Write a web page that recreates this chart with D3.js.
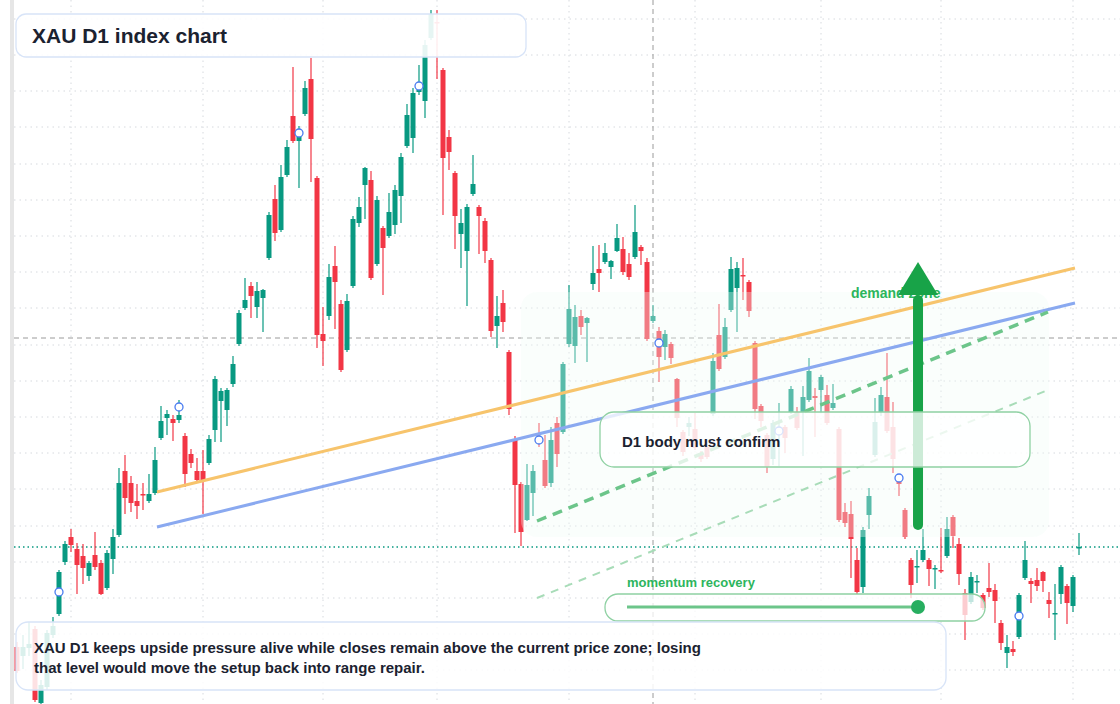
<!DOCTYPE html>
<html><head><meta charset="utf-8">
<script src="https://cdn.jsdelivr.net/npm/d3@7"></script>
<style>html,body{margin:0;padding:0;background:#fff}svg{display:block}</style>
</head><body><svg id="c" width="1120" height="704"></svg>
<script>
// [open, high, low, close]
const candles = [
[353,358,327,329],[344,365,331,353],[352,378,344,356],[371,374,298,300],[297,320,296,315],[313,370,310,367],[365,383,362,374],[386,430,384,428],[438,459,435,456],[463,471,448,455],
[451,457,406,435],[444,456,416,432],[424,439,419,437],[445,468,430,433],[437,440,405,406],[412,450,410,447],[441,471,426,463],[465,532,463,517],[529,545,486,502],[517,524,488,497],
[499,516,481,494],[506,517,490,505],[499,526,497,506],[507,553,505,540],[562,594,560,579],[582,590,565,586],[581,585,559,577],[580,600,577,585],[564,567,513,526],[546,551,532,537],
[529,542,518,520],[529,550,486,520],[537,565,535,561],[570,624,558,621],[599,612,558,609],[590,612,574,610],[616,644,613,636],[656,690,654,687],[692,722,690,700],[714,718,682,704],
[693,718,682,709],[702,711,668,710],[742,788,740,785],[801,815,759,767],[770,835,768,823],[825,860,823,853],[884,933,857,859],[859,874,812,870],[886,919,884,912],[921,942,818,861],
[822,824,652,665],[666,693,634,659],[684,736,680,723],[734,754,671,718],[696,700,628,630],[650,706,648,699],[714,784,712,781],[777,803,773,793],[815,833,781,832],[820,829,720,722],
[736,804,734,800],[772,774,705,752],[764,807,762,788],[775,815,766,810],[804,847,777,843],[854,896,852,885],[862,912,847,907],[908,935,905,914],[899,960,882,955],[962,990,960,986],
[978,990,921,977],[930,932,785,842],[863,870,830,848],[827,829,751,784],[766,791,732,777],[749,796,694,793],[806,845,804,816],[793,795,746,784],[779,782,737,749],[740,742,663,669],
[674,704,652,684],[697,710,668,678],[648,650,585,591],[561,564,467,515],[516,518,454,468],[480,536,479,515],[507,535,484,529],[562,577,553,558],[540,565,512,514],[517,573,513,560],
[577,583,533,546],[568,638,566,636],[656,715,653,691],[654,695,637,683],[684,690,665,673],[677,683,638,682],[716,754,710,727],[731,755,708,727],[738,757,736,747],[733,740,721,739],
[749,776,748,762],[751,763,725,728],[736,747,720,723],[743,795,741,768],[753,755,735,749],[738,742,659,661],[679,695,677,684],[669,673,618,643],[653,670,640,666],[656,658,636,642],
[621,622,573,582],[568,570,544,548],[573,583,564,577],[571,587,550,552],[547,549,538,541],[553,560,541,543],[586,647,584,639],[665,696,629,631],[643,682,641,673],[690,743,688,731],
[712,738,668,732],[725,742,700,724],[718,720,683,689],[657,659,581,591],[594,596,573,579],[565,567,527,533],[541,580,535,577],[569,597,534,572],[573,575,547,562],[588,614,586,611],
[588,593,570,572],[588,614,544,603],[600,642,598,629],[604,612,563,602],[610,625,587,623],[605,615,575,577],[592,616,590,597],[571,573,478,480],[488,497,473,477],[486,499,422,461],
[440,452,406,408],[413,473,407,470],[485,512,471,504],[545,602,543,578],[588,613,584,605],[603,647,567,569],[573,598,527,541],[520,525,504,516],[490,492,461,463],[440,442,402,415],
[433,450,417,434],[440,471,438,450],[440,442,414,431],[431,435,411,432],[430,472,427,429],[444,483,442,471],[483,485,452,464],[456,462,415,426],[407,411,360,385],[398,428,396,423],
[418,425,407,419],[405,407,390,392],[412,437,403,408],[410,416,377,399],[377,380,350,357],[347,365,332,353],[351,359,344,348],[363,407,361,405],[422,459,420,440],[419,422,397,416],
[420,432,409,414],[428,429,408,419],[400,408,382,396],[386,416,360,387],[406,435,396,433],[414,416,376,397],[394,425,388,423],[452,467,445,453]
];
const gridPrices = [981,945,909,873,836,800,764,728,692,655,619,583,547,511,474,438,402,366,330];
const gridIdx = [9,31,51,70,92,113,134,154,176];
const markers = [[7,408],[27,593],[47,867],[67,914],[87,560],[107,657],[127,569],[147,522],[167,384]];
const orangeLine = [[23.33,508],[176.33,732]];
const blueLine = [[23.33,473],[176.33,697]];
const greenDash = [[86.67,479],[171.83,688]];
const lightDash = [[86.67,402],[171.83,610]];
const levelGray = 662, levelTeal = 453, crossIdx = 106;
const zone = {i0:84, i1:172, p0:708, p1:463};
const arrow = {i:150.17, from:475, to:700, tip:738};
const sliderIdx = [101.67, 150.17];
const title = "XAU D1 index chart";
const noteLines = ["XAU D1 keeps upside pressure alive while closes remain above the current price zone; losing","that level would move the setup back into range repair."];

const svg = d3.select("#c");
const x = d3.scaleLinear().domain([0,177]).range([17,1079]);
const y = d3.scaleLinear().domain([296,1000]).range([704,0]);
const F = "'Liberation Sans', Arial, sans-serif";
const UP="#089981", DN="#f23645";

svg.append("rect").attr("x",10).attr("y",0).attr("width",4).attr("height",704).attr("fill","#e6e6e6");
const g = svg.append("g");
gridPrices.forEach(p=>g.append("line").attr("x1",14).attr("x2",1120).attr("y1",y(p)).attr("y2",y(p)).attr("stroke","#d6d9de").attr("stroke-dasharray","1.5,4"));
gridIdx.forEach(i=>g.append("line").attr("x1",x(i)).attr("x2",x(i)).attr("y1",0).attr("y2",704).attr("stroke","#d6d9de").attr("stroke-dasharray","1.5,4"));

svg.append("line").attr("x1",14).attr("x2",1120).attr("y1",y(levelGray)).attr("y2",y(levelGray)).attr("stroke","#9a9a9a").attr("stroke-dasharray","5,4");
svg.append("line").attr("x1",14).attr("x2",1120).attr("y1",y(levelTeal)).attr("y2",y(levelTeal)).attr("stroke","#089981").attr("stroke-dasharray","1.5,3").attr("stroke-width",1.3);
svg.append("line").attr("x1",x(crossIdx)).attr("x2",x(crossIdx)).attr("y1",0).attr("y2",704).attr("stroke","#9a9a9a").attr("stroke-dasharray","5,4");

const cg = svg.append("g");
candles.forEach((d,i)=>{
  const [o,h,l,c]=d; const col = c>=o?UP:DN;
  cg.append("line").attr("x1",x(i)).attr("x2",x(i)).attr("y1",y(h)).attr("y2",y(l)).attr("stroke",col).attr("stroke-width",1.2);
  const top=y(Math.max(o,c)), bh=Math.max(1.5,Math.abs(y(o)-y(c)));
  cg.append("rect").attr("x",x(i)-2.5).attr("y",top).attr("width",5).attr("height",bh).attr("fill",col);
});

svg.append("rect").attr("x",x(zone.i0)).attr("y",y(zone.p0)).attr("width",x(zone.i1)-x(zone.i0)).attr("height",y(zone.p1)-y(zone.p0)).attr("rx",16).attr("fill","#f2fbf5").attr("opacity",0.35);

const ln = d3.line().x(d=>x(d[0])).y(d=>y(d[1]));
svg.append("path").attr("d",ln(orangeLine)).attr("stroke","#f7c46c").attr("stroke-width",3).attr("fill","none");
svg.append("path").attr("d",ln(blueLine)).attr("stroke","#8aa9f0").attr("stroke-width",3).attr("fill","none");
svg.append("path").attr("d",ln(greenDash)).attr("stroke","#6cc58a").attr("stroke-width",3.5).attr("stroke-dasharray","10,7").attr("fill","none");
svg.append("path").attr("d",ln(lightDash)).attr("stroke","#a8dcb8").attr("stroke-width",2).attr("stroke-dasharray","8,7").attr("fill","none");

svg.append("text").attr("x",851).attr("y",298).attr("font-family",F).attr("font-weight","bold").attr("font-size",14).attr("fill","#2db55d").text("demand zone");
const ax=x(arrow.i);
svg.append("line").attr("x1",ax).attr("x2",ax).attr("y1",y(arrow.from)).attr("y2",y(arrow.to)).attr("stroke","#18a348").attr("stroke-width",10).attr("stroke-linecap","round");
svg.append("path").attr("d",`M${ax},${y(arrow.tip)} L${ax+20},${y(arrow.to)-5} L${ax-20},${y(arrow.to)-5} Z`).attr("fill","#18a348");

markers.forEach(m=>svg.append("circle").attr("cx",x(m[0])).attr("cy",y(m[1])).attr("r",4).attr("fill","#fff").attr("stroke","#4a7cf0").attr("stroke-width",1.3));

svg.append("rect").attr("x",600).attr("y",412).attr("width",430).attr("height",55).attr("rx",14).attr("fill","#fff").attr("fill-opacity",0.78).attr("stroke","#8fd1a3").attr("stroke-width",1.3);
svg.append("text").attr("x",622).attr("y",447).attr("font-family",F).attr("font-weight","bold").attr("font-size",15).attr("fill","#1b2230").text("D1 body must confirm");

svg.append("text").attr("x",627).attr("y",587).attr("font-family",F).attr("font-weight","bold").attr("font-size",13).attr("fill","#2db55d").text("momentum recovery");
svg.append("rect").attr("x",605).attr("y",594).attr("width",380).attr("height",27).attr("rx",13).attr("fill","#fff").attr("fill-opacity",0.75).attr("stroke","#8fd1a3").attr("stroke-width",1.3);
svg.append("line").attr("x1",x(sliderIdx[0])).attr("x2",x(sliderIdx[1])).attr("y1",607).attr("y2",607).attr("stroke","#6cc58a").attr("stroke-width",3);
svg.append("circle").attr("cx",x(sliderIdx[1])).attr("cy",607).attr("r",7).attr("fill","#27ae60");

svg.append("rect").attr("x",16).attr("y",622).attr("width",930).attr("height",68).attr("rx",12).attr("fill","#fff").attr("fill-opacity",0.85).attr("stroke","#d8e4f8").attr("stroke-width",1.3);
noteLines.forEach((t,k)=>svg.append("text").attr("x",34).attr("y",653+k*20).attr("font-family",F).attr("font-weight","bold").attr("font-size",15).attr("fill","#1b2230").text(t));

svg.append("rect").attr("x",16).attr("y",14).attr("width",510).attr("height",43).attr("rx",10).attr("fill","#fff").attr("fill-opacity",0.9).attr("stroke","#d8e4f8").attr("stroke-width",1.3);
svg.append("text").attr("x",32).attr("y",43).attr("font-family",F).attr("font-weight","bold").attr("font-size",21).attr("fill","#1b2230").text(title);
</script></body></html>
